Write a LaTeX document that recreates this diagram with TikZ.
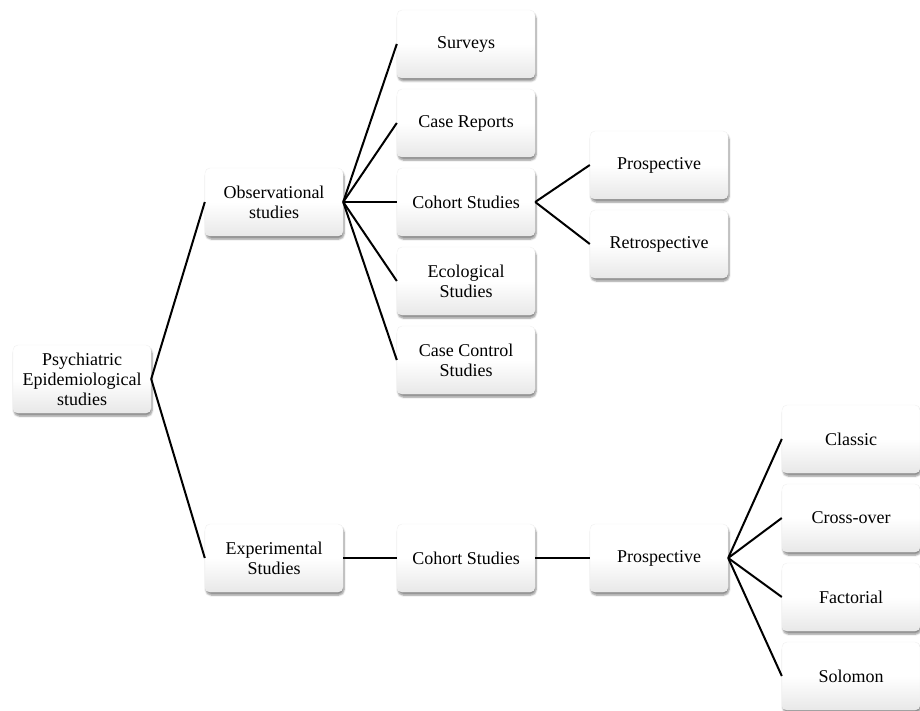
\documentclass[tikz,border=0pt]{standalone}
\usepackage{fontspec}
\setmainfont{Liberation Serif}
\usetikzlibrary{shadows.blur}
\begin{document}
\begin{tikzpicture}[x=1pt,y=-1pt,
  box/.style={rectangle, rounded corners=5pt, minimum width=138pt, minimum height=68pt,
    inner sep=2pt, align=center, draw=black!6, top color=white, bottom color=black!9,
    middle color=white,
    blur shadow={shadow blur steps=6, shadow xshift=1pt, shadow yshift=-3pt, shadow opacity=45},
    font=\fontsize{18pt}{20pt}\selectfont},
  link/.style={draw=black, line width=2pt}]
\useasboundingbox (0,0) rectangle (920,711);
\node[box] (root) at (82,379) {Psychiatric\\Epidemiological\\studies};
\node[box] (obs) at (274,202) {Observational\\studies};
\node[box] (exp) at (274,558) {Experimental\\Studies};
\node[box] (sur) at (466,44) {Surveys};
\node[box] (cr) at (466,123) {Case Reports};
\node[box] (coh) at (466,202) {Cohort Studies};
\node[box] (eco) at (466,281) {Ecological\\Studies};
\node[box] (cc) at (466,360) {Case Control\\Studies};
\node[box] (pro) at (659,165) {Prospective};
\node[box] (ret) at (659,244) {Retrospective};
\node[box] (coh2) at (466,558) {Cohort Studies};
\node[box] (pro2) at (659,558) {Prospective};
\node[box] (cla) at (851,439) {Classic};
\node[box] (cro) at (851,518) {Cross-over};
\node[box] (fac) at (851,597) {Factorial};
\node[box] (sol) at (851,676) {Solomon};
\draw[link] (root.east) -- (obs.west);
\draw[link] (root.east) -- (exp.west);
\foreach \t in {sur,cr,coh,eco,cc} \draw[link] (obs.east) -- (\t.west);
\draw[link] (coh.east) -- (pro.west);
\draw[link] (coh.east) -- (ret.west);
\draw[link] (exp.east) -- (coh2.west);
\draw[link] (coh2.east) -- (pro2.west);
\foreach \t in {cla,cro,fac,sol} \draw[link] (pro2.east) -- (\t.west);
\end{tikzpicture}
\end{document}
